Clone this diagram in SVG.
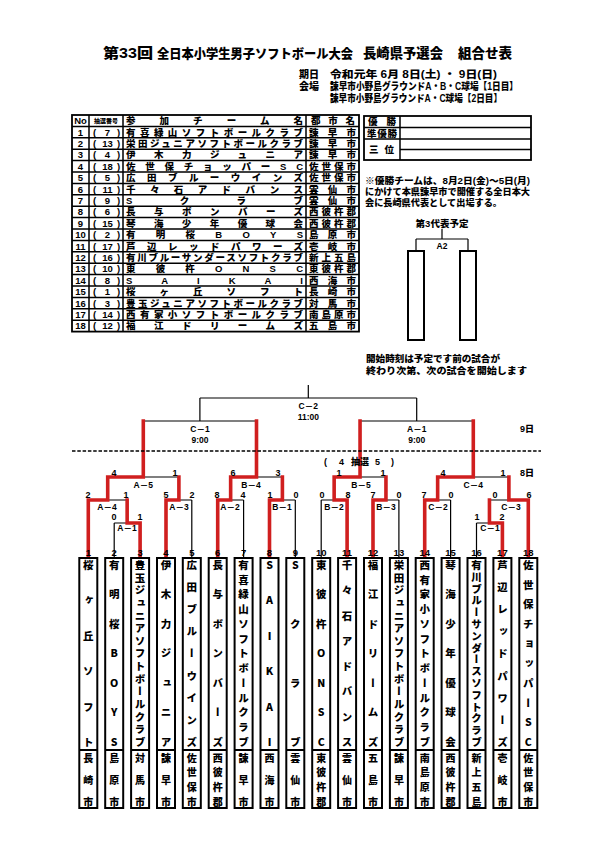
<svg xmlns="http://www.w3.org/2000/svg" width="595" height="842" viewBox="0 0 595 842">
<style>
.j{font-family:"Liberation Sans","Noto Sans CJK JP",sans-serif;font-weight:900;fill:#000}
.tb{font-size:9.5px}
.v{font-family:"Noto Sans CJK JP",sans-serif;font-weight:900;font-size:10.5px;writing-mode:vertical-rl;text-orientation:upright;text-anchor:middle}
.vc{font-family:"Noto Sans CJK JP",sans-serif;font-weight:900;font-size:10px;writing-mode:vertical-rl;text-orientation:upright;text-anchor:middle}
.num{font-family:"Liberation Sans",Arial,sans-serif;font-weight:bold;font-size:9.5px;text-anchor:middle}
.sc{font-family:"Liberation Sans",Arial,sans-serif;font-weight:bold;font-size:9px;text-anchor:middle}
.lb{font-family:"Liberation Sans","Noto Sans CJK JP",sans-serif;font-weight:bold;font-size:8.5px;text-anchor:middle}
.blk{fill:none;stroke:#000;stroke-width:1.2}
.red{fill:none;stroke:#d01f1f;stroke-width:3.6;stroke-linecap:square}
.box{fill:#fff;stroke:#000;stroke-width:2}
.tl{stroke:#000;stroke-width:1.5;fill:none}
.mid{text-anchor:middle}
</style>

<g id="title">
<text class="j" x="103" y="58" font-size="14" textLength="50" lengthAdjust="spacingAndGlyphs">第33回</text>
<text class="j" x="157" y="58" font-size="12.8" textLength="196" lengthAdjust="spacingAndGlyphs">全日本小学生男子ソフトボール大会</text>
<text class="j" x="363" y="58" font-size="13.3" textLength="80" lengthAdjust="spacingAndGlyphs">長崎県予選会</text>
<text class="j" x="458" y="58" font-size="13.5" textLength="54" lengthAdjust="spacingAndGlyphs">組合せ表</text>
<text class="j" x="299" y="78" font-size="10">期日</text>
<text class="j" x="330" y="78" font-size="10" textLength="167" lengthAdjust="spacingAndGlyphs">令和元年 6月 8日(土) ・ 9日(日)</text>
<text class="j" x="299" y="90" font-size="10">会場</text>
<text class="j" x="330" y="90" font-size="10" textLength="188" lengthAdjust="spacingAndGlyphs">諫早市小野島グラウンドA・B・C球場【1日目】</text>
<text class="j" x="330" y="102" font-size="10" textLength="172" lengthAdjust="spacingAndGlyphs">諫早市小野島グラウンドA・C球場【2日目】</text>
</g>

<g id="entry-table">
<rect x="72" y="115" width="287" height="216.6" fill="none" stroke="#000" stroke-width="1.8"/>
<path class="tl" d="M89 115V331.6M123 115V331.6M306 115V331.6
M72 126.4H359M72 137.8H359M72 149.2H359M72 160.6H359M72 172H359M72 183.4H359M72 194.8H359M72 206.2H359M72 217.6H359M72 229H359M72 240.4H359M72 251.8H359M72 263.2H359M72 274.6H359M72 286H359M72 297.4H359M72 308.8H359M72 320.2H359"/>
<text class="j tb mid" x="80.5" y="124.2">No</text>
<text class="j mid" x="106" y="123.2" font-size="6">抽選番号</text>
<text class="j tb" x="126" y="124.2" textLength="177" lengthAdjust="spacing">参加チーム名</text>
<text class="j tb" x="311" y="124.2" textLength="44" lengthAdjust="spacing">都市名</text>
<g class="j tb">
<text y="135.6"><tspan x="80.5" class="mid">1</tspan><tspan x="93">(</tspan><tspan x="107.5" class="mid">7</tspan><tspan x="117">)</tspan></text>
<text x="126" y="135.6" textLength="177" lengthAdjust="spacing">有喜緑山ソフトボールクラブ</text>
<text x="309" y="135.6" textLength="47" lengthAdjust="spacing">諫早市</text>
<text y="147"><tspan x="80.5" class="mid">2</tspan><tspan x="93">(</tspan><tspan x="107.5" class="mid">13</tspan><tspan x="117">)</tspan></text>
<text x="126" y="147" textLength="177" lengthAdjust="spacing">栄田ジュニアソフトボールクラブ</text>
<text x="309" y="147" textLength="47" lengthAdjust="spacing">諫早市</text>
<text y="158.4"><tspan x="80.5" class="mid">3</tspan><tspan x="93">(</tspan><tspan x="107.5" class="mid">4</tspan><tspan x="117">)</tspan></text>
<text x="126" y="158.4" textLength="177" lengthAdjust="spacing">伊木力ジュニア</text>
<text x="309" y="158.4" textLength="47" lengthAdjust="spacing">諫早市</text>
<text y="169.8"><tspan x="80.5" class="mid">4</tspan><tspan x="93">(</tspan><tspan x="107.5" class="mid">18</tspan><tspan x="117">)</tspan></text>
<text x="126" y="169.8" textLength="177" lengthAdjust="spacing">佐世保チョッパーSC</text>
<text x="309" y="169.8" textLength="47" lengthAdjust="spacing">佐世保市</text>
<text y="181.2"><tspan x="80.5" class="mid">5</tspan><tspan x="93">(</tspan><tspan x="107.5" class="mid">5</tspan><tspan x="117">)</tspan></text>
<text x="126" y="181.2" textLength="177" lengthAdjust="spacing">広田ブルーウインズ</text>
<text x="309" y="181.2" textLength="47" lengthAdjust="spacing">佐世保市</text>
<text y="192.6"><tspan x="80.5" class="mid">6</tspan><tspan x="93">(</tspan><tspan x="107.5" class="mid">11</tspan><tspan x="117">)</tspan></text>
<text x="126" y="192.6" textLength="177" lengthAdjust="spacing">千々石アドバンス</text>
<text x="309" y="192.6" textLength="47" lengthAdjust="spacing">雲仙市</text>
<text y="204"><tspan x="80.5" class="mid">7</tspan><tspan x="93">(</tspan><tspan x="107.5" class="mid">9</tspan><tspan x="117">)</tspan></text>
<text x="126" y="204" textLength="177" lengthAdjust="spacing">Sクラブ</text>
<text x="309" y="204" textLength="47" lengthAdjust="spacing">雲仙市</text>
<text y="215.4"><tspan x="80.5" class="mid">8</tspan><tspan x="93">(</tspan><tspan x="107.5" class="mid">6</tspan><tspan x="117">)</tspan></text>
<text x="126" y="215.4" textLength="177" lengthAdjust="spacing">長与ボンバーズ</text>
<text x="309" y="215.4" textLength="47" lengthAdjust="spacing">西彼杵郡</text>
<text y="226.8"><tspan x="80.5" class="mid">9</tspan><tspan x="93">(</tspan><tspan x="107.5" class="mid">15</tspan><tspan x="117">)</tspan></text>
<text x="126" y="226.8" textLength="177" lengthAdjust="spacing">琴海少年優球会</text>
<text x="309" y="226.8" textLength="47" lengthAdjust="spacing">西彼杵郡</text>
<text y="238.2"><tspan x="80.5" class="mid">10</tspan><tspan x="93">(</tspan><tspan x="107.5" class="mid">2</tspan><tspan x="117">)</tspan></text>
<text x="126" y="238.2" textLength="177" lengthAdjust="spacing">有明桜BOYS</text>
<text x="309" y="238.2" textLength="47" lengthAdjust="spacing">島原市</text>
<text y="249.6"><tspan x="80.5" class="mid">11</tspan><tspan x="93">(</tspan><tspan x="107.5" class="mid">17</tspan><tspan x="117">)</tspan></text>
<text x="126" y="249.6" textLength="177" lengthAdjust="spacing">芦辺レッドパワーズ</text>
<text x="309" y="249.6" textLength="47" lengthAdjust="spacing">壱岐市</text>
<text y="261"><tspan x="80.5" class="mid">12</tspan><tspan x="93">(</tspan><tspan x="107.5" class="mid">16</tspan><tspan x="117">)</tspan></text>
<text x="126" y="261" textLength="177" lengthAdjust="spacing">有川ブルーサンダースソフトクラブ</text>
<text x="309" y="261" textLength="47" lengthAdjust="spacing">新上五島</text>
<text y="272.4"><tspan x="80.5" class="mid">13</tspan><tspan x="93">(</tspan><tspan x="107.5" class="mid">10</tspan><tspan x="117">)</tspan></text>
<text x="126" y="272.4" textLength="177" lengthAdjust="spacing">東彼杵ONSC</text>
<text x="309" y="272.4" textLength="47" lengthAdjust="spacing">東彼杵郡</text>
<text y="283.8"><tspan x="80.5" class="mid">14</tspan><tspan x="93">(</tspan><tspan x="107.5" class="mid">8</tspan><tspan x="117">)</tspan></text>
<text x="126" y="283.8" textLength="177" lengthAdjust="spacing">SAIKAI</text>
<text x="309" y="283.8" textLength="47" lengthAdjust="spacing">西海市</text>
<text y="295.2"><tspan x="80.5" class="mid">15</tspan><tspan x="93">(</tspan><tspan x="107.5" class="mid">1</tspan><tspan x="117">)</tspan></text>
<text x="126" y="295.2" textLength="177" lengthAdjust="spacing">桜ヶ丘ソフト</text>
<text x="309" y="295.2" textLength="47" lengthAdjust="spacing">長崎市</text>
<text y="306.6"><tspan x="80.5" class="mid">16</tspan><tspan x="93">(</tspan><tspan x="107.5" class="mid">3</tspan><tspan x="117">)</tspan></text>
<text x="126" y="306.6" textLength="177" lengthAdjust="spacing">豊玉ジュニアソフトボールクラブ</text>
<text x="309" y="306.6" textLength="47" lengthAdjust="spacing">対馬市</text>
<text y="318"><tspan x="80.5" class="mid">17</tspan><tspan x="93">(</tspan><tspan x="107.5" class="mid">14</tspan><tspan x="117">)</tspan></text>
<text x="126" y="318" textLength="177" lengthAdjust="spacing">西有家小ソフトボールクラブ</text>
<text x="309" y="318" textLength="47" lengthAdjust="spacing">南島原市</text>
<text y="329.4"><tspan x="80.5" class="mid">18</tspan><tspan x="93">(</tspan><tspan x="107.5" class="mid">12</tspan><tspan x="117">)</tspan></text>
<text x="126" y="329.4" textLength="177" lengthAdjust="spacing">福江ドリームズ</text>
<text x="309" y="329.4" textLength="47" lengthAdjust="spacing">五島市</text>
</g>
</g>

<g id="results">
<rect x="364" y="116" width="167" height="44" fill="none" stroke="#000" stroke-width="1.8"/>
<path class="tl" d="M364 127.5H531M364 139H531M400 149.5H531M400 116V160"/>
<text class="j tb" x="368" y="125" textLength="28" lengthAdjust="spacing">優勝</text>
<text class="j tb" x="367" y="136.5" textLength="30" lengthAdjust="spacing">準優勝</text>
<text class="j tb" x="369" y="153" textLength="25" lengthAdjust="spacing">三位</text>
</g>

<g id="notes">
<text class="j" x="365" y="183.5" font-size="9.2" textLength="165" lengthAdjust="spacingAndGlyphs">※優勝チームは、8月2日(金)～5日(月)</text>
<text class="j" x="365" y="194.5" font-size="9.2" textLength="165" lengthAdjust="spacingAndGlyphs">にかけて本県諫早市で開催する全日本大</text>
<text class="j" x="365" y="205.5" font-size="9.2" textLength="137" lengthAdjust="spacingAndGlyphs">会に長崎県代表として出場する。</text>
<text class="j mid" x="442" y="227" font-size="9.5">第3代表予定</text>
<text class="j" x="366" y="361.5" font-size="9.6" textLength="134" lengthAdjust="spacingAndGlyphs">開始時刻は予定です前の試合が</text>
<text class="j" x="366" y="374" font-size="9.6" textLength="161" lengthAdjust="spacingAndGlyphs">終わり次第、次の試合を開始します</text>
</g>

<g id="third-place">
<path class="blk" d="M442 229V239M416 239H468M416 239V251M468 239V251"/>
<text class="lb" x="442" y="248.5" font-size="8">A2</text>
<rect class="box" x="408" y="251" width="16" height="89"/>
<rect class="box" x="460" y="251" width="16" height="89"/>
</g>

<g id="connectors">
<path class="blk" d="M88.3 558V500M114.2 558V523M140.1 558V523M166 558V500M191.8 558V500M217.7 558V500M243.6 558V500M269.5 558V500M295.3 558V500M321.2 558V500M347.1 558V500M373 558V500M398.9 558V500M424.7 558V500M450.6 558V500M476.5 558V523M502.4 558V523M528.3 558V500
M114.2 523H140.1M476.5 523H502.4M127.15 523V500M489.45 523V500
M88.3 500H127.15M166 500H191.8M217.7 500H243.6M269.5 500H295.3M321.2 500H347.1M373 500H398.9M424.7 500H450.6M489.45 500H528.3
M107.7 500V477M178.9 500V477M230.65 500V477M282.4 500V477M334.15 500V477M385.95 500V477M437.65 500V477M508.9 500V477
M107.7 477H178.9M230.65 477H282.4M334.15 477H385.95M437.65 477H508.9
M143.3 477V421M256.5 477V421M360.05 477V421M473.3 477V421
M143.3 421H256.5M360.05 421H473.3M199.9 421V398M416.7 421V398M199.9 398H416.7M308.3 398V385"/>
<path class="red" d="M88.3 557V500H107.7V477H143.3V421
M140.1 557V523H127.15V500
M166 557V500H178.9V477
M217.7 557V500H230.65V477H256.5V421
M269.5 557V500H282.4V477
M347.1 557V500H334.15V477H360.05V421
M373 557V500H385.95V477
M424.7 557V500H437.65V477H473.3V421
M502.4 557V523H489.45V500
M528.3 557V500H508.9V477"/>
<line x1="72" y1="451" x2="541" y2="451" stroke="#000" stroke-width="1.3" stroke-dasharray="3.5,1.8"/>
</g>

<g id="match-labels">
<text class="lb" x="308.3" y="409">C－2</text>
<text class="lb" x="308.3" y="420">11:00</text>
<text class="lb" x="200" y="432">C－1</text>
<text class="lb" x="200" y="443">9:00</text>
<text class="lb" x="416.7" y="432">A－1</text>
<text class="lb" x="416.7" y="443">9:00</text>
<text class="j" x="520" y="432" font-size="9">9日</text>
<text class="j" x="520" y="476" font-size="9">8日</text>
<text class="j" y="465" font-size="9"><tspan x="324">(</tspan><tspan x="339">4</tspan><tspan x="351">抽選</tspan><tspan x="375">5</tspan><tspan x="391">)</tspan></text>
<text class="lb" x="143.3" y="487.5">A－5</text>
<text class="lb" x="251" y="487.5">B－4</text>
<text class="lb" x="361" y="487.5">B－5</text>
<text class="lb" x="473.3" y="487.5">C－4</text>
<text class="lb" x="107" y="510">A－4</text>
<text class="lb" x="179" y="510">A－3</text>
<text class="lb" x="230" y="510">A－2</text>
<text class="lb" x="282" y="510">B－1</text>
<text class="lb" x="334" y="510">B－2</text>
<text class="lb" x="386" y="510">B－3</text>
<text class="lb" x="438" y="510">C－2</text>
<text class="lb" x="511" y="510">C－3</text>
<text class="lb" x="127" y="531">A－1</text>
<text class="lb" x="490" y="531">C－1</text>
<text class="sc" x="114" y="475.5">4</text><text class="sc" x="175" y="475.5">1</text>
<text class="sc" x="233" y="475.5">6</text><text class="sc" x="278" y="475.5">3</text>
<text class="sc" x="339" y="475.5">1</text><text class="sc" x="383" y="475.5">1</text>
<text class="sc" x="443" y="475.5">4</text><text class="sc" x="503" y="475.5">1</text>
<text class="sc" x="88" y="498">2</text><text class="sc" x="126" y="498">1</text>
<text class="sc" x="166" y="498">5</text><text class="sc" x="192" y="498">2</text>
<text class="sc" x="217" y="498">8</text><text class="sc" x="243" y="498">4</text>
<text class="sc" x="270" y="498">1</text><text class="sc" x="296" y="498">0</text>
<text class="sc" x="322" y="498">0</text><text class="sc" x="348" y="498">8</text>
<text class="sc" x="373" y="498">7</text><text class="sc" x="399" y="498">0</text>
<text class="sc" x="424" y="498">7</text><text class="sc" x="451" y="498">0</text>
<text class="sc" x="495" y="498">0</text><text class="sc" x="529" y="498">6</text>
<text class="sc" x="114" y="520">0</text><text class="sc" x="140" y="520">1</text>
<text class="sc" x="477" y="520">1</text><text class="sc" x="502" y="520">2</text>
</g>

<g id="team1"><text class="num" x="88.3" y="555.5">1</text><rect class="box" x="79.3" y="558" width="18" height="250"/><line x1="79.3" y1="750" x2="97.3" y2="750" stroke="#000" stroke-width="2"/>
<text class="v" x="88.3" y="565 600.4 635.8 671.2 706.6 742">桜ヶ丘ソフト</text><text class="vc" x="88.3" y="758 780 802">長崎市</text></g>
<g id="team2"><text class="num" x="114.2" y="555.5">2</text><rect class="box" x="105.2" y="558" width="18" height="250"/><line x1="105.2" y1="750" x2="123.2" y2="750" stroke="#000" stroke-width="2"/>
<text class="v" x="114.2" y="565 594.5 624 653.5 683 712.5 742">有明桜BOYS</text><text class="vc" x="114.2" y="758 780 802">島原市</text></g>
<g id="team3"><text class="num" x="140.1" y="555.5">3</text><rect class="box" x="131.1" y="558" width="18" height="250"/><line x1="131.1" y1="750" x2="149.1" y2="750" stroke="#000" stroke-width="2"/>
<text class="v" x="140.1" y="565 577.6 590.3 602.9 615.6 628.2 640.9 653.5 666.1 678.8 691.4 704.1 716.7 729.4 742">豊玉ジュニアソフトボールクラブ</text><text class="vc" x="140.1" y="758 780 802">対馬市</text></g>
<g id="team4"><text class="num" x="166" y="555.5">4</text><rect class="box" x="157" y="558" width="18" height="250"/><line x1="157" y1="750" x2="175" y2="750" stroke="#000" stroke-width="2"/>
<text class="v" x="166" y="565 594.5 624 653.5 683 712.5 742">伊木力ジュニア</text><text class="vc" x="166" y="758 780 802">諫早市</text></g>
<g id="team5"><text class="num" x="191.8" y="555.5">5</text><rect class="box" x="182.8" y="558" width="18" height="250"/><line x1="182.8" y1="750" x2="200.8" y2="750" stroke="#000" stroke-width="2"/>
<text class="v" x="191.8" y="565 587.1 609.3 631.4 653.5 675.6 697.8 719.9 742">広田ブルーウインズ</text><text class="vc" x="191.8" y="758 772.7 787.3 802">佐世保市</text></g>
<g id="team6"><text class="num" x="217.7" y="555.5">6</text><rect class="box" x="208.7" y="558" width="18" height="250"/><line x1="208.7" y1="750" x2="226.7" y2="750" stroke="#000" stroke-width="2"/>
<text class="v" x="217.7" y="565 594.5 624 653.5 683 712.5 742">長与ボンバーズ</text><text class="vc" x="217.7" y="758 772.7 787.3 802">西彼杵郡</text></g>
<g id="team7"><text class="num" x="243.6" y="555.5">7</text><rect class="box" x="234.6" y="558" width="18" height="250"/><line x1="234.6" y1="750" x2="252.6" y2="750" stroke="#000" stroke-width="2"/>
<text class="v" x="243.6" y="565 579.8 594.5 609.3 624 638.8 653.5 668.3 683 697.8 712.5 727.3 742">有喜緑山ソフトボールクラブ</text><text class="vc" x="243.6" y="758 780 802">諫早市</text></g>
<g id="team8"><text class="num" x="269.5" y="555.5">8</text><rect class="box" x="260.5" y="558" width="18" height="250"/><line x1="260.5" y1="750" x2="278.5" y2="750" stroke="#000" stroke-width="2"/>
<text class="v" x="269.5" y="565 600.4 635.8 671.2 706.6 742">SAIKAI</text><text class="vc" x="269.5" y="758 780 802">西海市</text></g>
<g id="team9"><text class="num" x="295.3" y="555.5">9</text><rect class="box" x="286.3" y="558" width="18" height="250"/><line x1="286.3" y1="750" x2="304.3" y2="750" stroke="#000" stroke-width="2"/>
<text class="v" x="295.3" y="565 624 683 742">Sクラブ</text><text class="vc" x="295.3" y="758 780 802">雲仙市</text></g>
<g id="team10"><text class="num" x="321.2" y="555.5">10</text><rect class="box" x="312.2" y="558" width="18" height="250"/><line x1="312.2" y1="750" x2="330.2" y2="750" stroke="#000" stroke-width="2"/>
<text class="v" x="321.2" y="565 594.5 624 653.5 683 712.5 742">東彼杵ONSC</text><text class="vc" x="321.2" y="758 772.7 787.3 802">東彼杵郡</text></g>
<g id="team11"><text class="num" x="347.1" y="555.5">11</text><rect class="box" x="338.1" y="558" width="18" height="250"/><line x1="338.1" y1="750" x2="356.1" y2="750" stroke="#000" stroke-width="2"/>
<text class="v" x="347.1" y="565 590.3 615.6 640.9 666.1 691.4 716.7 742">千々石アドバンス</text><text class="vc" x="347.1" y="758 780 802">雲仙市</text></g>
<g id="team12"><text class="num" x="373" y="555.5">12</text><rect class="box" x="364" y="558" width="18" height="250"/><line x1="364" y1="750" x2="382" y2="750" stroke="#000" stroke-width="2"/>
<text class="v" x="373" y="565 594.5 624 653.5 683 712.5 742">福江ドリームズ</text><text class="vc" x="373" y="758 780 802">五島市</text></g>
<g id="team13"><text class="num" x="398.9" y="555.5">13</text><rect class="box" x="389.9" y="558" width="18" height="250"/><line x1="389.9" y1="750" x2="407.9" y2="750" stroke="#000" stroke-width="2"/>
<text class="v" x="398.9" y="565 577.6 590.3 602.9 615.6 628.2 640.9 653.5 666.1 678.8 691.4 704.1 716.7 729.4 742">栄田ジュニアソフトボールクラブ</text><text class="vc" x="398.9" y="758 780 802">諫早市</text></g>
<g id="team14"><text class="num" x="424.7" y="555.5">14</text><rect class="box" x="415.7" y="558" width="18" height="250"/><line x1="415.7" y1="750" x2="433.7" y2="750" stroke="#000" stroke-width="2"/>
<text class="v" x="424.7" y="565 579.8 594.5 609.3 624 638.8 653.5 668.3 683 697.8 712.5 727.3 742">西有家小ソフトボールクラブ</text><text class="vc" x="424.7" y="758 772.7 787.3 802">南島原市</text></g>
<g id="team15"><text class="num" x="450.6" y="555.5">15</text><rect class="box" x="441.6" y="558" width="18" height="250"/><line x1="441.6" y1="750" x2="459.6" y2="750" stroke="#000" stroke-width="2"/>
<text class="v" x="450.6" y="565 594.5 624 653.5 683 712.5 742">琴海少年優球会</text><text class="vc" x="450.6" y="758 772.7 787.3 802">西彼杵郡</text></g>
<g id="team16"><text class="num" x="476.5" y="555.5">16</text><rect class="box" x="467.5" y="558" width="18" height="250"/><line x1="467.5" y1="750" x2="485.5" y2="750" stroke="#000" stroke-width="2"/>
<text class="v" x="476.5" y="565 576.8 588.6 600.4 612.2 624 635.8 647.6 659.4 671.2 683 694.8 706.6 718.4 730.2 742">有川ブルーサンダースソフトクラブ</text><text class="vc" x="476.5" y="758 772.7 787.3 802">新上五島</text></g>
<g id="team17"><text class="num" x="502.4" y="555.5">17</text><rect class="box" x="493.4" y="558" width="18" height="250"/><line x1="493.4" y1="750" x2="511.4" y2="750" stroke="#000" stroke-width="2"/>
<text class="v" x="502.4" y="565 587.1 609.3 631.4 653.5 675.6 697.8 719.9 742">芦辺レッドパワーズ</text><text class="vc" x="502.4" y="758 780 802">壱岐市</text></g>
<g id="team18"><text class="num" x="528.3" y="555.5">18</text><rect class="box" x="519.3" y="558" width="18" height="250"/><line x1="519.3" y1="750" x2="537.3" y2="750" stroke="#000" stroke-width="2"/>
<text class="v" x="528.3" y="565 584.7 604.3 624 643.7 663.3 683 702.7 722.3 742">佐世保チョッパーSC</text><text class="vc" x="528.3" y="758 772.7 787.3 802">佐世保市</text></g>
</svg>
